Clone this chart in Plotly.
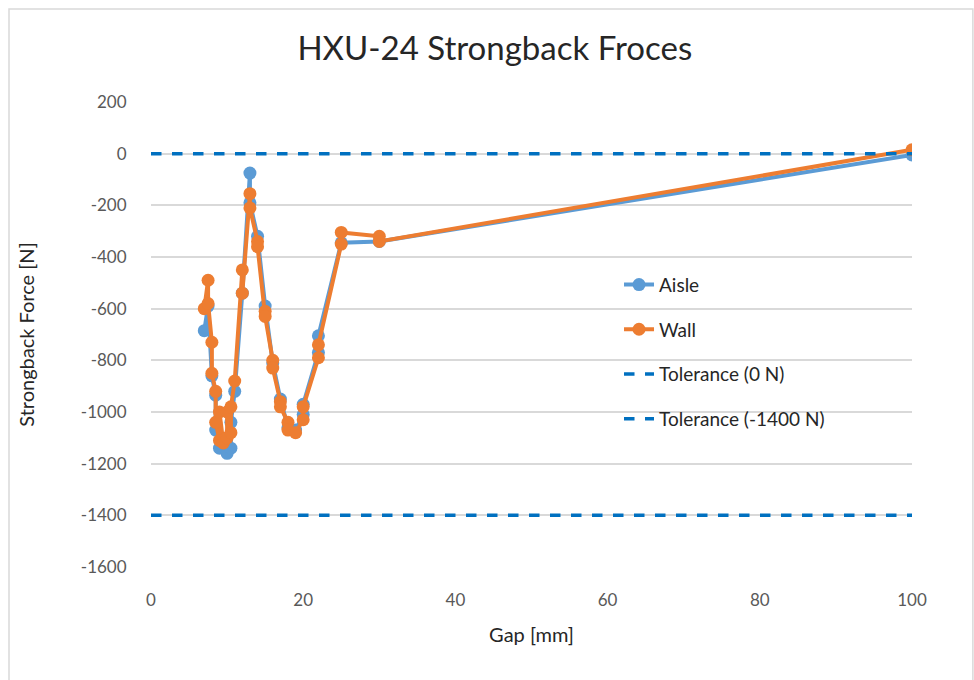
import plotly.graph_objects as go

aisle_gap = [7, 7.5, 8, 8.5, 8.5, 9, 9.5, 10, 10.5, 10.5, 11, 12, 13, 13, 14, 15, 16, 17, 18, 19, 20, 20, 22, 22, 25, 30, 100]
aisle_force = [-685, -590, -860, -935, -1070, -1140, -1110, -1160, -1140, -1040, -920, -540, -75, -190, -320, -590, -810, -950, -1060, -1070, -1010, -970, -770, -705, -345, -340, -5]

wall_gap = [7, 7.5, 7.5, 8, 8, 8.5, 8.5, 9, 9, 9.5, 10, 10, 10.5, 10.5, 11, 12, 12, 13, 13, 14, 14, 15, 15, 16, 16, 17, 17, 18, 18, 19, 20, 20, 22, 22, 25, 25, 30, 30, 100]
wall_force = [-600, -490, -580, -730, -850, -920, -1040, -1110, -1000, -1120, -1100, -1000, -1080, -980, -880, -450, -540, -155, -210, -340, -360, -610, -630, -800, -830, -960, -980, -1040, -1070, -1080, -1030, -980, -790, -740, -350, -305, -320, -340, 15]

tol_x = [0, 100]
tol_0 = [0, 0]
tol_1400 = [-1400, -1400]

x_ticks = [0, 20, 40, 60, 80, 100]
y_ticks = list(range(-1600, 201, 200))
y_labels = [str(v) for v in y_ticks]

FONT = "Lato, Open Sans, sans-serif"

fig = go.Figure()
fig.add_trace(go.Scatter(x=aisle_gap, y=aisle_force, name="Aisle", mode="lines+markers",
                         line=dict(color="#5B9BD5", width=4), marker=dict(size=13, color="#5B9BD5")))
fig.add_trace(go.Scatter(x=wall_gap, y=wall_force, name="Wall", mode="lines+markers",
                         line=dict(color="#ED7D31", width=4), marker=dict(size=13, color="#ED7D31")))
fig.add_trace(go.Scatter(x=tol_x, y=tol_0, name="Tolerance (0 N)", mode="lines",
                         line=dict(color="#0070C0", width=3.5, dash="dash")))
fig.add_trace(go.Scatter(x=tol_x, y=tol_1400, name="Tolerance (-1400 N)", mode="lines",
                         line=dict(color="#0070C0", width=3.5, dash="dash")))
for i, tr in enumerate(fig.data):
    tr.legendgroup = "g" + str(i)

fig.update_layout(
    width=974, height=680,
    margin=dict(l=151, r=62, t=102, b=113),
    paper_bgcolor="white", plot_bgcolor="white",
    font=dict(family=FONT, color="#595959"),
    title=dict(text="HXU-24 Strongback Froces", x=0.508, xanchor="center", xref="container",
               y=1 - 48 / 680, yanchor="middle", yref="container",
               font=dict(size=33, color="#262626", family=FONT)),
    showlegend=True,
    legend=dict(x=0.615, y=0.648, xanchor="left", yanchor="top", bgcolor="rgba(0,0,0,0)",
                font=dict(size=19, color="#262626", family=FONT), tracegroupgap=17,
                traceorder="grouped"),
    xaxis=dict(range=[0, 100], tickvals=x_ticks, showgrid=False, zeroline=False,
               showline=False, ticks="outside", ticklen=18, tickcolor="rgba(0,0,0,0)",
               tickfont=dict(size=17, color="#595959"),
               title=dict(text="Gap [mm]", font=dict(size=20, color="#262626"), standoff=18)),
    yaxis=dict(range=[-1600, 200], tickvals=y_ticks, ticktext=y_labels, showgrid=True,
               gridcolor="#D9D9D9", gridwidth=1.5,
               zeroline=False, showline=False, ticks="outside", ticklen=20, tickcolor="rgba(0,0,0,0)",
               tickfont=dict(size=17, color="#595959"),
               title=dict(text="Strongback Force [N]", font=dict(size=20, color="#262626"), standoff=40)),
)

fig.add_shape(type="rect", xref="paper", yref="paper", x0=-0.1866, x1=1.08, y0=-0.265, y1=1.2,
              line=dict(color="#D9D9D9", width=1.5), fillcolor="rgba(0,0,0,0)", layer="below")

fig.write_html("out.html", config={"displayModeBar": False},
               post_script="document.body.style.margin='0';")
